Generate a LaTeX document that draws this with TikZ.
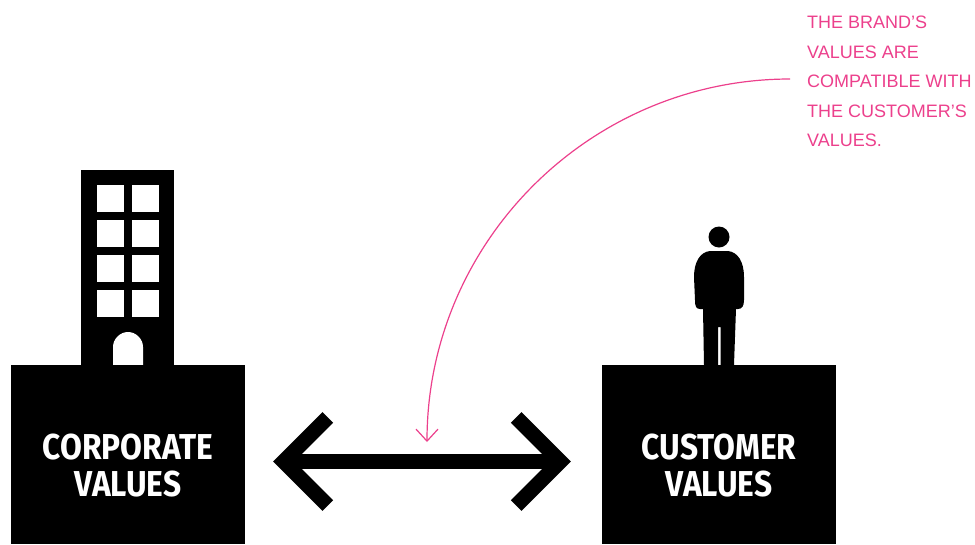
\documentclass[tikz,border=0pt]{standalone}
\usepackage{fontspec}
\usepackage{tikz}
\usetikzlibrary{arrows.meta}
\setmainfont{Liberation Sans}
\newfontfamily\boxfont[FakeStretch=0.88]{Fira Sans Bold}
\definecolor{notepink}{HTML}{EC408C}

\begin{document}
\begin{tikzpicture}[x=1pt, y=-1pt,
    block/.style={fill=black, inner sep=0pt, minimum width=234pt, minimum height=179pt},
    tower/.style={fill=black, inner sep=0pt, minimum width=93pt, minimum height=195pt},
    window/.style={fill=white, inner sep=0pt, minimum size=27pt},
    blocktext/.style={text=white, align=center, inner sep=0pt, font=\boxfont\fontsize{36}{37}\selectfont},
    notetext/.style={text=notepink, align=left, inner sep=0pt, font=\fontsize{18}{29.5}\selectfont},
    bigarrow/.style={{Straight Barb[length=44pt, width=88pt, line width=15pt]}-{Straight Barb[length=44pt, width=88pt, line width=15pt]}, line width=15pt, shorten <=28pt, shorten >=31pt},
    notearrow/.style={-{Straight Barb[length=12pt, width=22pt, line width=1.2pt]}, draw=notepink, line width=1.2pt}]
    \useasboundingbox (0,0) rectangle (975,544);

    % Edificio
    \node[tower] (building) at (127.5,267.5) {};
    \node[window] (w1) at (110.5,198.5) {};
    \node[window] (w2) at (145.5,198.5) {};
    \node[window] (w3) at (110.5,233.5) {};
    \node[window] (w4) at (145.5,233.5) {};
    \node[window] (w5) at (110.5,268.5) {};
    \node[window] (w6) at (145.5,268.5) {};
    \node[window] (w7) at (110.5,303.5) {};
    \node[window] (w8) at (145.5,303.5) {};
    \fill[white] (113,365) -- (113,347) .. controls (113,339) and (120,332) .. (128,332)
        .. controls (136,332) and (143,339) .. (143,347) -- (143,365) -- cycle;

    % Persona
    \node[fill=black, circle, inner sep=0pt, minimum size=21pt] (head) at (719,237) {};
    \fill[black] (710,251) -- (728,251) .. controls (738,252) and (744,262) .. (744,277)
        -- (744,300) .. controls (744,306) and (742,309) .. (738,309) -- (736,309) -- (734,365)
        -- (720.5,365) -- (720.5,327) -- (718,327) -- (718,365) -- (704,365) -- (703,309)
        -- (700,309) .. controls (696,309) and (695,306) .. (695,300) -- (694,277)
        .. controls (694,262) and (700,252) .. (710,251) -- cycle;

    % Cajas
    \node[block] (corporate) at (128,454.5) {};
    \node[block] (customer) at (719,454.5) {};
    \node[blocktext] (corporatetext) at (128,465.5) {CORPORATE\\VALUES};
    \node[blocktext] (customertext) at (719,465.5) {CUSTOMER\\VALUES};

    % Nota
    \node[notetext, anchor=north west] (note) at (807,16) {THE BRAND’S\\VALUES ARE\\COMPATIBLE WITH\\THE CUSTOMER’S\\VALUES.};
    \coordinate (notestart) at (790,79);
    \coordinate (notetip) at (427,442);

    % Flechas
    \draw[bigarrow] (corporate.east |- 0,461.5) -- (customer.west |- 0,461.5);
    \draw[notearrow] (notestart) .. controls (590,79) and (427,242) .. (notetip);
\end{tikzpicture}
\end{document}
